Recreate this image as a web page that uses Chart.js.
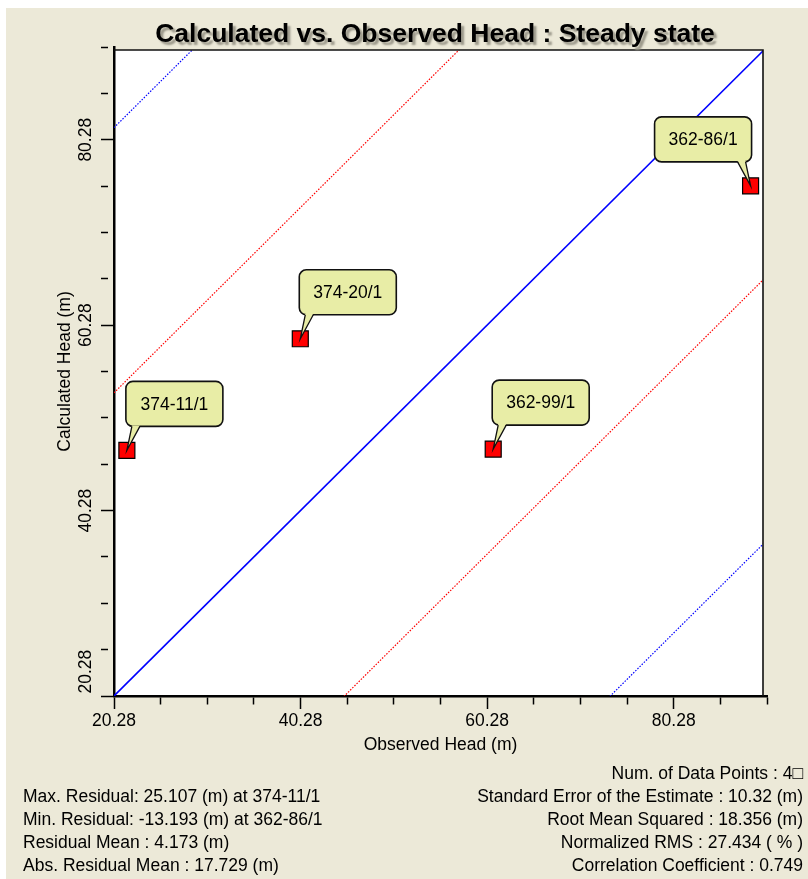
<!DOCTYPE html>
<html>
<head>
<meta charset="utf-8">
<script src="https://cdn.jsdelivr.net/npm/chart.js@4.4.1/dist/chart.umd.min.js"></script>
<style>
body { margin: 0; background: #fff; }
#wrap { position: relative; width: 808px; height: 879px; font-family: "Liberation Sans", Arial, sans-serif; color: #000; overflow: hidden; }
#bg { position: absolute; left: 6px; top: 8px; right: 0; bottom: 0; background: #ECE9D8; }
canvas { position: absolute; left: 0; top: 0; }
#title { position: absolute; left: 0; width: 870px; top: 18px; line-height: 30px; text-align: center; font-weight: bold; font-size: 26.5px; text-shadow: 3px 3px 2px #9b988a; white-space: nowrap; }
.stats { position: absolute; font-size: 17.5px; line-height: 23px; white-space: nowrap; }
#statsL { left: 23px; top: 785px; }
#statsR { right: 5px; top: 762px; text-align: right; }
</style>
</head>
<body>
<div id="wrap">
  <div id="bg"></div>
  <canvas id="chart" width="808" height="879"></canvas>
  <div id="title">Calculated vs. Observed Head : Steady state</div>
  <div class="stats" id="statsL"></div>
  <div class="stats" id="statsR"></div>
</div>
<script>
// observation wells
var pointNames = ['374-11/1', '374-20/1', '362-99/1', '362-86/1'];
var observedHead = [21.66, 40.25, 60.93, 88.52];
var calculatedHead = [46.77, 58.81, 46.91, 75.30];

// axis range and ticks (both axes the same)
var axisMin = 20.28;
var axisMax = 90.28;
var tickStep = 5;
var labelStep = 20;

// 1:1 line and the two interval bands (offset from y = x)
var lineOffsets = [0, 32.7, -24.7, 61.3, -53.2];
var lineKinds = ['fit', 'inner', 'inner', 'outer', 'outer'];

var statsLeft = [
    'Max. Residual: 25.107 (m) at 374-11/1',
    'Min. Residual: -13.193 (m) at 362-86/1',
    'Residual Mean : 4.173 (m)',
    'Abs. Residual Mean : 17.729 (m)'
];
var statsRight = [
    'Num. of Data Points : 4\u25A1',
    'Standard Error of the Estimate : 10.32 (m)',
    'Root Mean Squared : 18.356 (m)',
    'Normalized RMS : 27.434 ( % )',
    'Correlation Coefficient : 0.749'
];

document.getElementById('statsL').innerHTML = statsLeft.join('<br>');
document.getElementById('statsR').innerHTML = statsRight.join('<br>');

var lineStyles = {
    fit: { color: '#0000ff', width: 1.6, dash: [] },
    inner: { color: '#ff0000', width: 1.2, dash: [1.5, 1.5] },
    outer: { color: '#0000ff', width: 1.2, dash: [1.5, 1.5] }
};

// the first y label sits above its tick, so it gets leading spaces
var firstLabelPad = '\u00A0\u00A0\u00A0\u00A0\u00A0\u00A0\u00A0\u00A0\u00A0\u00A0';

function isMajor(v) {
    var k = (v - axisMin) / labelStep;
    return Math.abs(k - Math.round(k)) < 1e-6;
}

function buildTicks(scale) {
    var ticks = [];
    for (var v = axisMin; v <= axisMax + 1e-6; v += tickStep) {
        ticks.push({ value: Math.round(v * 100) / 100 });
    }
    scale.ticks = ticks;
}

function axisOptions(titleText, vertical) {
    return {
        type: 'linear',
        min: axisMin,
        max: axisMax,
        afterBuildTicks: buildTicks,
        afterFit: function (s) {
            if (vertical) s.width = 114; else s.height = 60;
        },
        border: { display: true, color: '#000', width: 2.5 },
        grid: {
            drawOnChartArea: false,
            drawTicks: true,
            tickLength: 13,
            tickColor: '#000',
            tickWidth: 1.5,
            tickBorderDash: function (c) {
                return (c.tick && isMajor(c.tick.value)) ? [] : [7, 50];
            }
        },
        ticks: {
            autoSkip: false,
            color: '#000',
            font: { size: 17.5 },
            minRotation: vertical ? 90 : 0,
            maxRotation: vertical ? 90 : 0,
            crossAlign: vertical ? 'center' : 'near',
            padding: vertical ? -31.5 : 2,
            callback: function (v) {
                if (!isMajor(v)) return '';
                var s = v.toFixed(2);
                return (vertical && Math.abs(v - axisMin) < 1e-6) ? firstLabelPad + s : s;
            }
        },
        title: {
            display: true,
            text: titleText,
            color: '#000',
            font: { size: 17.5 },
            padding: vertical ? { top: 55, bottom: 0 } : { top: 0, bottom: 0 }
        }
    };
}

var datasets = [];
datasets.push({
    label: 'wells',
    data: observedHead.map(function (x, i) { return { x: x, y: calculatedHead[i] }; }),
    pointStyle: 'rect',
    pointRadius: 11.3,
    pointHoverRadius: 11.3,
    backgroundColor: '#ff0000',
    borderColor: '#000',
    borderWidth: 1.2,
    showLine: false,
    clip: false,
    order: 0
});
lineOffsets.forEach(function (off, i) {
    var st = lineStyles[lineKinds[i]];
    datasets.push({
        label: lineKinds[i],
        data: [{ x: axisMin, y: axisMin + off }, { x: axisMax, y: axisMax + off }],
        showLine: true,
        pointRadius: 0,
        borderColor: st.color,
        borderWidth: st.width,
        borderDash: st.dash,
        clip: { left: 0, top: -3, right: -4, bottom: 0 },
        order: 1
    });
});

var framePlugin = {
    id: 'frame',
    beforeDraw: function (chart) {
        var a = chart.chartArea, c = chart.ctx;
        c.save();
        c.fillStyle = '#fff';
        c.fillRect(a.left, a.top + 3, a.right - 4 - a.left, a.bottom - a.top - 3);
        c.restore();
    },
    afterDatasetsDraw: function (chart) {
        var a = chart.chartArea, c = chart.ctx;
        c.save();
        c.strokeStyle = '#111';
        c.lineWidth = 1.6;
        c.beginPath();
        c.moveTo(a.left, a.top + 3);
        c.lineTo(a.right - 4, a.top + 3);
        c.lineTo(a.right - 4, a.bottom);
        c.stroke();
        c.restore();
    }
};

function roundRect(c, x, y, w, h, r) {
    c.beginPath();
    c.moveTo(x + r, y);
    c.lineTo(x + w - r, y);
    c.arcTo(x + w, y, x + w, y + r, r);
    c.lineTo(x + w, y + h - r);
    c.arcTo(x + w, y + h, x + w - r, y + h, r);
    c.lineTo(x + r, y + h);
    c.arcTo(x, y + h, x, y + h - r, r);
    c.lineTo(x, y + r);
    c.arcTo(x, y, x + r, y, r);
    c.closePath();
}

var calloutPlugin = {
    id: 'callouts',
    afterDatasetsDraw: function (chart) {
        var c = chart.ctx, a = chart.chartArea;
        var meta = chart.getDatasetMeta(0);
        var w = 97, h = 45;
        c.save();
        meta.data.forEach(function (pt, i) {
            var bx = pt.x - 1;
            var flip = bx + w > a.right - 4;
            if (flip) bx = pt.x + 1 - w;
            var by = pt.y - 24 - h;
            roundRect(c, bx, by, w, h, 7);
            c.fillStyle = '#E8EDA6';
            c.fill();
            c.strokeStyle = '#111';
            c.lineWidth = 1.6;
            c.stroke();
            var b1 = flip ? bx + w - 14 : bx + 6;
            var b2 = b1 + 8;
            c.beginPath();
            c.moveTo(b1, by + h - 1);
            c.lineTo(pt.x, pt.y);
            c.lineTo(b2, by + h - 1);
            c.closePath();
            c.fillStyle = '#E8EDA6';
            c.fill();
            c.beginPath();
            c.moveTo(b1, by + h);
            c.lineTo(pt.x, pt.y);
            c.lineTo(b2, by + h);
            c.lineWidth = 1.3;
            c.stroke();
            c.fillStyle = '#000';
            c.font = '17.5px "Liberation Sans", Arial, sans-serif';
            c.textAlign = 'center';
            c.textBaseline = 'middle';
            c.fillText(pointNames[i], bx + w / 2, by + h / 2 + 1);
        });
        c.restore();
    }
};

Chart.defaults.font.family = '"Liberation Sans", Arial, sans-serif';
Chart.defaults.color = '#000';

new Chart(document.getElementById('chart').getContext('2d'), {
    type: 'scatter',
    data: { datasets: datasets },
    options: {
        responsive: false,
        animation: false,
        layout: { padding: { top: 47, right: 41, bottom: 123, left: 0 } },
        plugins: { legend: { display: false }, tooltip: { enabled: false } },
        scales: {
            x: axisOptions('Observed Head (m)', false),
            y: axisOptions('Calculated Head (m)', true)
        }
    },
    plugins: [framePlugin, calloutPlugin]
});
</script>
</body>
</html>
